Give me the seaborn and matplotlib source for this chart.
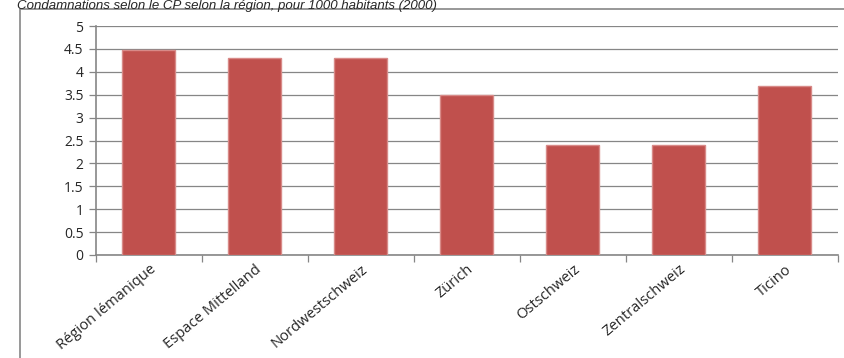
import matplotlib
matplotlib.use('Agg')
import matplotlib.pyplot as plt
import seaborn as sns
import pandas as pd
import numpy as np
from matplotlib.patches import Rectangle

TITLE = 'Condamnations selon le CP selon la région, pour 1000 habitants (2000)'
REGIONS = ['Région lémanique', 'Espace Mittelland', 'Nordwestschweiz', 'Zürich',
           'Ostschweiz', 'Zentralschweiz', 'Ticino']
RATES = [4.48, 4.31, 4.31, 3.49, 2.41, 2.41, 3.69]
Y_TICKS = [0, 0.5, 1, 1.5, 2, 2.5, 3, 3.5, 4, 4.5, 5]

BAR_COLOR = '#C0504D'
BAR_EDGE = '#D88A88'
GRID_COLOR = '#868686'

sns.set_theme(style='white')
plt.rcParams['font.family'] = ['Open Sans', 'DejaVu Sans']

W, H = 845, 358
fig = plt.figure(figsize=(W / 100, H / 100), dpi=100)

# outer chart frame (cut off on right and bottom in the original)
fig.patches.append(Rectangle((20 / W, -0.1), 1.0, (H - 9) / H + 0.1,
                             transform=fig.transFigure, fill=False,
                             edgecolor=GRID_COLOR, linewidth=1.2))

ax = fig.add_axes([96 / W, 1 - 255 / H, (838 - 96) / W, (255 - 26) / H])

df = pd.DataFrame({'region': REGIONS, 'rate': RATES})
sns.barplot(data=df, x='region', y='rate', color=BAR_COLOR, saturation=1,
            width=0.5, edgecolor=BAR_EDGE, linewidth=1, ax=ax, zorder=3)

ax.set_ylim(0, 5)
ax.set_xlim(-0.5, len(REGIONS) - 0.5)
ax.set_yticks(Y_TICKS)
ax.set_yticklabels([f'{t:g}' for t in Y_TICKS], fontsize=10)
ax.yaxis.grid(True, color=GRID_COLOR, linewidth=0.9, zorder=0)
ax.set_axisbelow(True)

for side in ['top', 'right']:
    ax.spines[side].set_visible(False)
for side in ['left', 'bottom']:
    ax.spines[side].set_color(GRID_COLOR)
    ax.spines[side].set_linewidth(1.2)

ax.tick_params(axis='y', which='major', length=5, color=GRID_COLOR, width=0.9,
               left=True, pad=4)
ax.set_xticks(np.arange(len(REGIONS)))
ax.set_xticklabels(REGIONS, rotation=40, ha='right', rotation_mode='anchor',
                   fontsize=10.6)
ax.tick_params(axis='x', which='major', length=0, pad=5)
ax.set_xticks(np.arange(len(REGIONS) + 1) - 0.5, minor=True)
ax.tick_params(axis='x', which='minor', length=5, color=GRID_COLOR, width=0.9,
               bottom=True)
ax.set_xlabel('')
ax.set_ylabel('')

fig.text(17 / W, 1 - 9 / H, TITLE, fontsize=9.5, style='italic',
         family=['Liberation Sans', 'DejaVu Sans'], va='baseline', ha='left')

fig.savefig('out.png', dpi=100)
